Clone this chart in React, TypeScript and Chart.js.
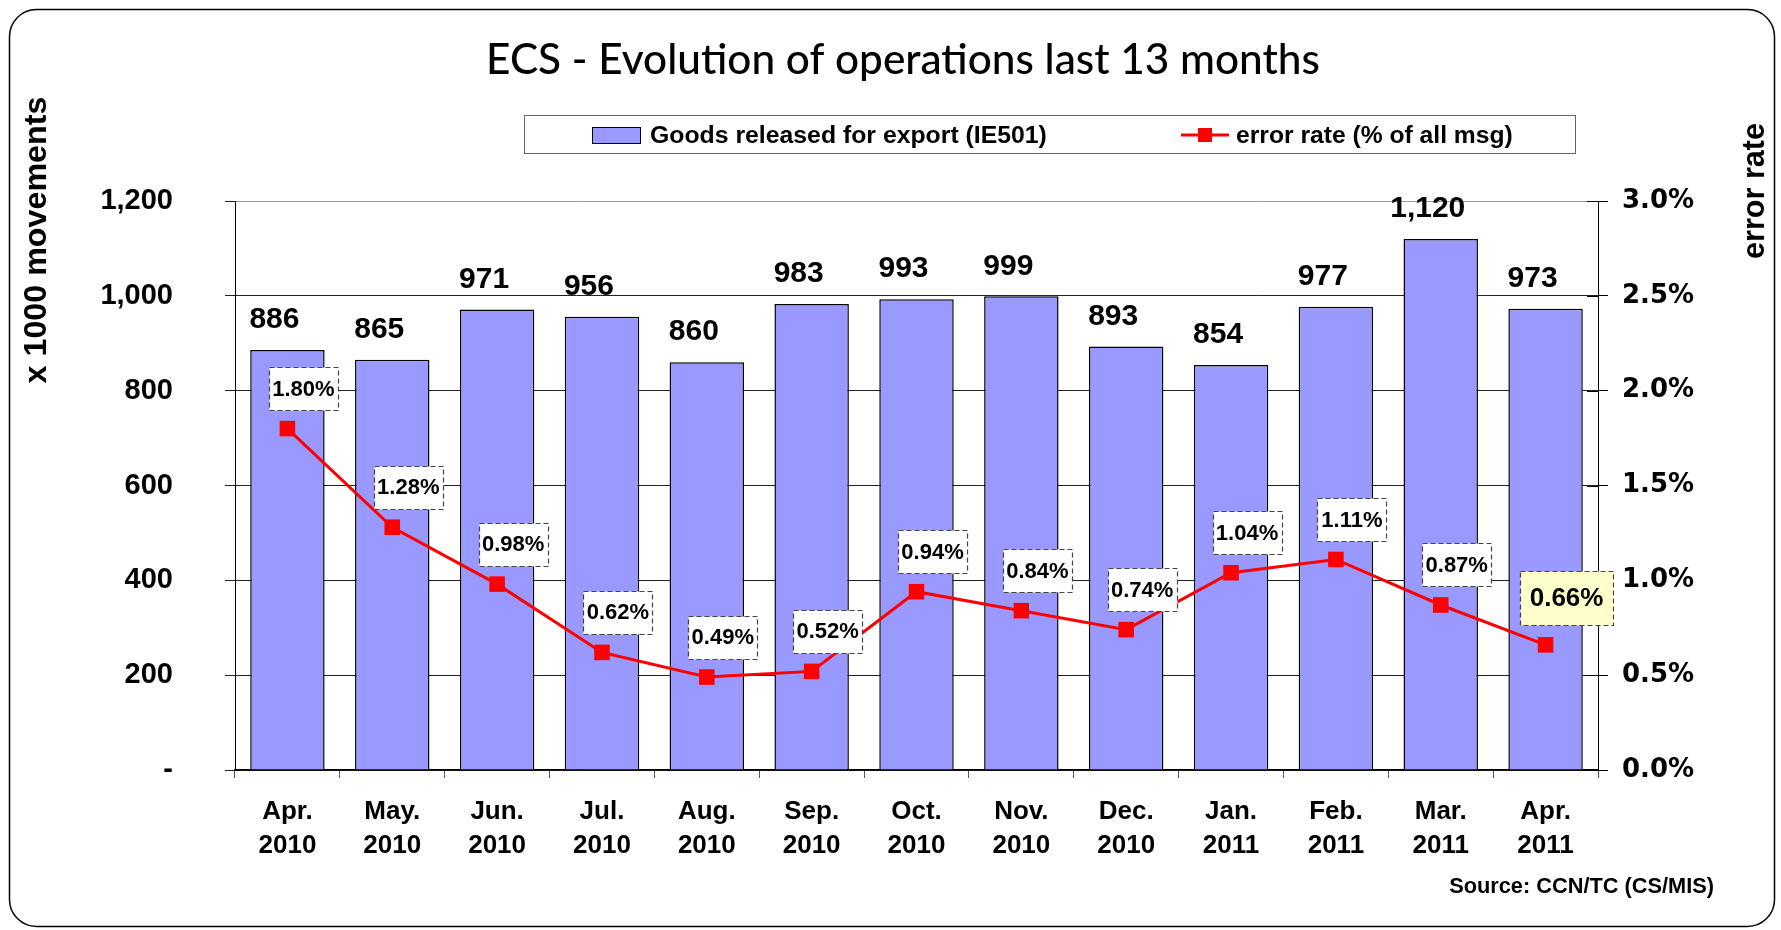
import React, { useEffect, useRef } from 'react';
import { Chart, registerables } from 'chart.js';

Chart.register(...registerables);

const monthLabels: string[][] = [
  ['Apr.', '2010'], ['May.', '2010'], ['Jun.', '2010'], ['Jul.', '2010'], ['Aug.', '2010'],
  ['Sep.', '2010'], ['Oct.', '2010'], ['Nov.', '2010'], ['Dec.', '2010'], ['Jan.', '2011'],
  ['Feb.', '2011'], ['Mar.', '2011'], ['Apr.', '2011'],
];
const goodsReleased = [886, 865, 971, 956, 860, 983, 993, 999, 893, 854, 977, 1120, 973];
const errorRate = [1.80, 1.28, 0.98, 0.62, 0.49, 0.52, 0.94, 0.84, 0.74, 1.04, 1.11, 0.87, 0.66];

const TITLE = 'ECS - Evolution of operations last 13 months';
const SERIES_BAR = 'Goods released for export (IE501)';
const SERIES_LINE = 'error rate (% of all msg)';
const LEFT_TITLE = 'x 1000 movements';
const RIGHT_TITLE = 'error rate';
const SOURCE = 'Source: CCN/TC (CS/MIS)';

const ARIAL = '"Liberation Sans", Arial, sans-serif';
const BAR_COLOR = '#9999FF';
const LINE_COLOR = '#FF0000';

function fitFont(ctx: CanvasRenderingContext2D, text: string, weight: string, family: string, target: number) {
  ctx.font = `${weight} 40px ${family}`;
  const w = ctx.measureText(text).width;
  const size = (40 * target) / w;
  ctx.font = `${weight} ${size}px ${family}`;
}

const decorPlugin = {
  id: 'decor',
  beforeDraw(chart: any) {
    const ctx: CanvasRenderingContext2D = chart.ctx;
    ctx.save();
    ctx.fillStyle = '#fff';
    ctx.fillRect(0, 0, chart.width, chart.height);
    ctx.beginPath();
    (ctx as any).roundRect(9.5, 9.5, 1765, 917, 27);
    ctx.strokeStyle = '#000';
    ctx.lineWidth = 1.5;
    ctx.stroke();

    // title
    ctx.fillStyle = '#000';
    fitFont(ctx, TITLE, '500', 'Lato, "Open Sans", sans-serif', 834);
    ctx.textAlign = 'center';
    ctx.textBaseline = 'middle';
    ctx.fillText(TITLE, 903, 60);

    // legend box
    ctx.fillStyle = '#fff';
    ctx.fillRect(524.5, 115.5, 1051, 38);
    ctx.strokeStyle = '#666';
    ctx.lineWidth = 1;
    ctx.strokeRect(524.5, 115.5, 1051, 38);
    ctx.fillStyle = BAR_COLOR;
    ctx.fillRect(592.5, 127.5, 48, 16);
    ctx.strokeStyle = '#000';
    ctx.strokeRect(592.5, 127.5, 48, 16);
    ctx.fillStyle = '#000';
    ctx.textAlign = 'left';
    fitFont(ctx, SERIES_BAR, 'bold', ARIAL, 397);
    ctx.fillText(SERIES_BAR, 650, 136);
    ctx.strokeStyle = LINE_COLOR;
    ctx.lineWidth = 3;
    ctx.beginPath();
    ctx.moveTo(1181, 135);
    ctx.lineTo(1229, 135);
    ctx.stroke();
    ctx.fillStyle = LINE_COLOR;
    ctx.fillRect(1198, 128, 14, 14);
    ctx.fillStyle = '#000';
    fitFont(ctx, SERIES_LINE, 'bold', ARIAL, 277);
    ctx.fillText(SERIES_LINE, 1236, 136);

    // axis titles
    ctx.save();
    ctx.translate(37, 240);
    ctx.rotate(-Math.PI / 2);
    ctx.textAlign = 'center';
    fitFont(ctx, LEFT_TITLE, 'bold', ARIAL, 287);
    ctx.fillText(LEFT_TITLE, 0, 0);
    ctx.restore();

    ctx.save();
    ctx.translate(1756, 191);
    ctx.rotate(-Math.PI / 2);
    ctx.textAlign = 'center';
    fitFont(ctx, RIGHT_TITLE, 'bold', ARIAL, 136);
    ctx.fillText(RIGHT_TITLE, 0, 0);
    ctx.restore();

    // source
    ctx.textAlign = 'right';
    fitFont(ctx, SOURCE, 'bold', ARIAL, 265);
    ctx.fillText(SOURCE, 1714, 887);
    ctx.restore();
  },
  afterDatasetsDraw(chart: any) {
    const ctx: CanvasRenderingContext2D = chart.ctx;
    ctx.save();
    // inward tick marks on the right axis
    const y1 = chart.scales.y1;
    ctx.strokeStyle = '#000';
    ctx.lineWidth = 1;
    y1.ticks.forEach((t: any) => {
      const py = Math.round(y1.getPixelForValue(t.value)) + 0.5;
      ctx.beginPath();
      ctx.moveTo(chart.chartArea.right - 11, py);
      ctx.lineTo(chart.chartArea.right, py);
      ctx.stroke();
    });
    // bar value labels
    const barMeta = chart.getDatasetMeta(1);
    ctx.fillStyle = '#000';
    ctx.textAlign = 'center';
    ctx.textBaseline = 'middle';
    ctx.font = `bold 30px ${ARIAL}`;
    barMeta.data.forEach((el: any, i: number) => {
      ctx.fillText(goodsReleased[i].toLocaleString('en-US'), el.x - 13, el.y - 30);
    });
    // error-rate labels
    const lineMeta = chart.getDatasetMeta(0);
    const last = errorRate.length - 1;
    lineMeta.data.forEach((el: any, i: number) => {
      const big = i === last;
      const w = big ? 93 : 69;
      const h = big ? 54 : 43;
      const cx = el.x + (big ? 21 : 16);
      const cy = el.y - (big ? 47 : 40);
      const x0 = Math.round(cx - w / 2) + 0.5;
      const y0 = Math.round(cy - h / 2) + 0.5;
      ctx.fillStyle = big ? '#FFFFCC' : '#fff';
      ctx.fillRect(x0, y0, w, h);
      ctx.setLineDash([5, 3]);
      ctx.strokeStyle = '#444';
      ctx.lineWidth = 1.2;
      ctx.strokeRect(x0, y0, w, h);
      ctx.setLineDash([]);
      ctx.fillStyle = '#000';
      ctx.font = `bold ${big ? 26 : 22}px ${ARIAL}`;
      ctx.fillText(errorRate[i].toFixed(2) + '%', cx, cy + 1);
    });
    ctx.restore();
  },
};

export default function App() {
  const ref = useRef<HTMLCanvasElement | null>(null);
  useEffect(() => {
    document.body.style.overflow = 'hidden';
    const canvas = ref.current;
    if (!canvas) return;
    const chart = new Chart(canvas, {
      type: 'bar',
      data: {
        labels: monthLabels,
        datasets: [
          {
            type: 'line',
            label: SERIES_LINE,
            data: errorRate,
            yAxisID: 'y1',
            borderColor: LINE_COLOR,
            backgroundColor: LINE_COLOR,
            borderWidth: 3,
            pointStyle: 'rect',
            pointRadius: 11,
            pointHoverRadius: 11,
            pointBackgroundColor: LINE_COLOR,
            pointBorderColor: LINE_COLOR,
            pointBorderWidth: 0,
            tension: 0,
            order: 0,
          } as any,
          {
            type: 'bar',
            label: SERIES_BAR,
            data: goodsReleased,
            yAxisID: 'y',
            backgroundColor: BAR_COLOR,
            borderColor: '#000',
            borderWidth: 1.5,
            barPercentage: 0.71,
            categoryPercentage: 1,
            order: 1,
          } as any,
        ],
      },
      options: {
        responsive: false,
        animation: false,
        devicePixelRatio: 1,
        layout: { padding: { top: 201, left: 0, right: 0, bottom: 0 } },
        plugins: {
          legend: { display: false },
          title: { display: false },
          tooltip: { enabled: false },
        },
        scales: {
          x: {
            offset: true,
            afterFit: (s: any) => { s.height = 160; },
            grid: { offset: true, drawOnChartArea: false, drawTicks: true, tickLength: 8, color: '#555' },
            border: { display: true, color: '#000', width: 1.5 },
            ticks: {
              color: '#000',
              padding: 17,
              maxRotation: 0,
              autoSkip: false,
              font: { family: ARIAL, size: 26, weight: 'bold', lineHeight: 1.3 },
            },
          },
          y: {
            position: 'left',
            min: 0,
            max: 1200,
            afterFit: (s: any) => { s.width = 235; },
            ticks: {
              stepSize: 200,
              color: '#000',
              padding: 52,
              font: { family: ARIAL, size: 29, weight: 'bold' },
              callback: (v: any) => (v === 0 ? '-' : Number(v).toLocaleString('en-US')),
            },
            grid: {
              color: (c: any) => (c.tick && c.tick.value === 1200 ? '#999' : '#222'),
              tickColor: '#222',
              tickLength: 10,
              lineWidth: 1,
            },
            border: { display: true, color: '#000', width: 1 },
          },
          y1: {
            position: 'right',
            min: 0,
            max: 3,
            afterFit: (s: any) => { s.width = 183; },
            ticks: {
              stepSize: 0.5,
              color: '#000',
              padding: 14,
              font: { family: '"DejaVu Sans", Verdana, sans-serif', size: 26, weight: 'bold' },
              callback: (v: any) => Number(v).toFixed(1) + '%',
            },
            grid: { drawOnChartArea: false, tickLength: 10, color: '#000' },
            border: { display: true, color: '#000', width: 1 },
          },
        },
      } as any,
      plugins: [decorPlugin],
    });
    return () => chart.destroy();
  }, []);
  return (
    <canvas
      ref={ref}
      width={1781}
      height={930}
      style={{ position: 'absolute', left: 0, top: 0, display: 'block' }}
    />
  );
}
